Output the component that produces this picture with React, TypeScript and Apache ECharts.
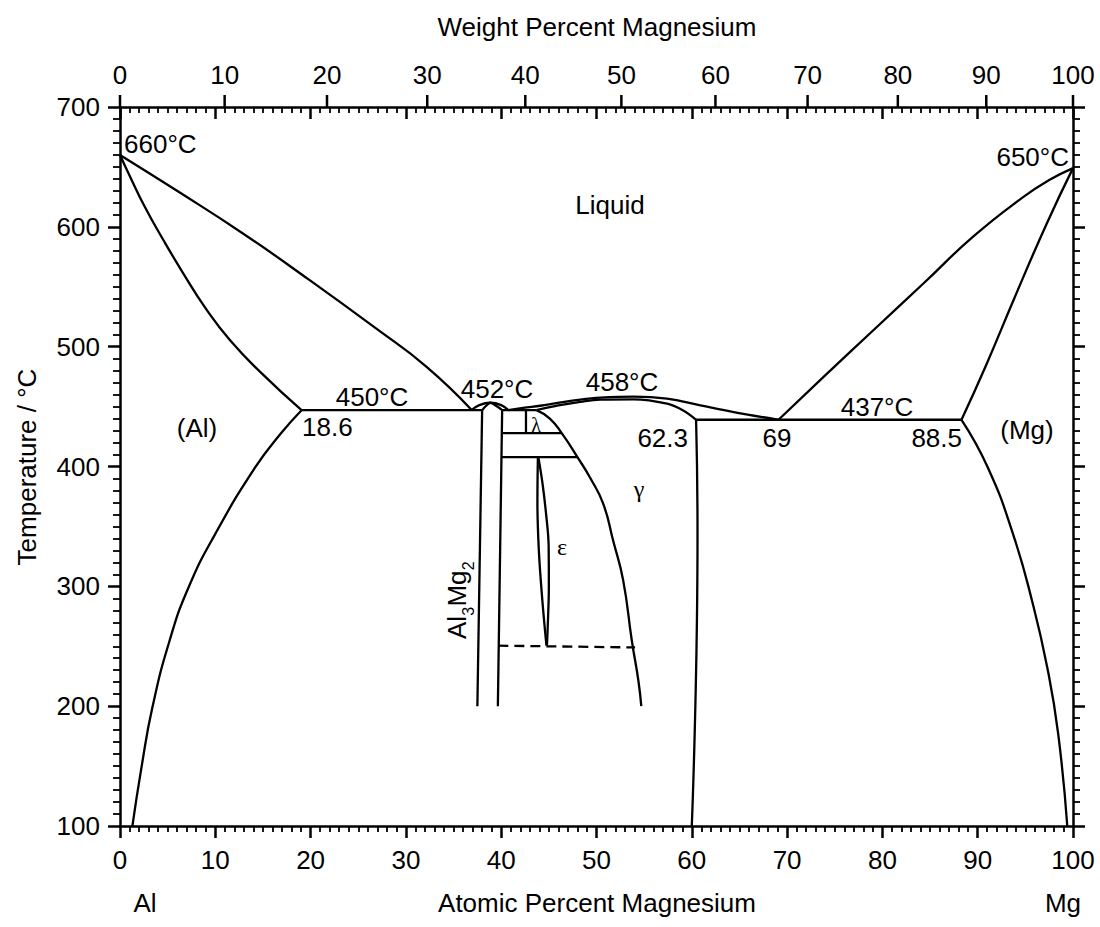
import React, { useEffect, useRef } from 'react';
import * as echarts from 'echarts';

type P = [number, number];

// Top axis: weight percent Mg labels and their positions on the atomic-percent scale
const wtPercentLabels = [0, 10, 20, 30, 40, 50, 60, 70, 80, 90, 100];
const wtPercentAtAtomic = [0, 10.98, 21.72, 32.24, 42.53, 52.61, 62.48, 72.15, 81.62, 90.9, 100];

// Phase boundaries: [atomic % Mg, temperature °C]
const alLiquidus: P[] = [[0, 660], [5.9, 630.5], [12.9, 594.5], [19.9, 555.5], [26.9, 515], [32.2, 483], [36.9, 447.2]];
const alSolidus: P[] = [[0, 660], [0.9, 644.6], [2.6, 616.7], [4.55, 589], [6.65, 561], [8.9, 533], [11.55, 505.3], [14.9, 477.5], [19.05, 447]];
const alSolvus: P[] = [[19.05, 447], [16.85, 427.3], [14.2, 399.4], [10.0, 343.8], [7.2, 299.2], [5.2, 254.6], [3.4, 199], [2.25, 148.7], [1.3, 100]];
const alEutectic: P[] = [[19.05, 447], [38.0, 447]];

const betaLeft: P[] = [[38.0, 447], [37.5, 200]];
const betaRight: P[] = [[40.1, 447], [39.65, 200]];
const betaLiquidus: P[] = [[36.9, 447.2], [37.7, 451.2], [38.85, 453.2], [40.0, 451.2], [40.75, 447]];
const betaSolidus: P[] = [[38.0, 447], [38.4, 450.5], [38.85, 453.2], [39.5, 450.5], [40.1, 447]];

const betaGammaEutectic: P[] = [[40.1, 447], [43.7, 447]];
const lambdaVertical: P[] = [[42.6, 447], [42.6, 427.8]];
const lambdaBottom: P[] = [[40.05, 427.8], [46.35, 427.8]];
const epsilonTop: P[] = [[40.0, 407.8], [48.0, 407.8]];

const gammaLeft: P[] = [[43.7, 447], [45.1, 440], [46.35, 427.8], [48.0, 407.8], [49.3, 391], [50.7, 369], [51.75, 338], [52.8, 305], [53.7, 255], [54.4, 221], [54.7, 200]];
const epsilonLeft: P[] = [[43.85, 407.8], [43.8, 370], [43.95, 330], [44.3, 290], [44.75, 250.5]];
const epsilonRight: P[] = [[43.9, 407.8], [44.35, 385], [44.7, 361], [44.98, 333], [45.0, 300], [44.9, 270], [44.8, 250.5]];
const dashed250: P[] = [[39.7, 250.5], [54.05, 249]];

const gammaLiquidus: P[] = [[40.75, 447], [42.3, 449], [44.1, 450.7], [45.8, 452.9], [48.3, 455.8], [50.4, 457.4], [53.9, 458.3], [57.4, 456.6], [60.9, 451], [64.4, 445.4], [69.1, 439]];
const gammaSolidus: P[] = [[43.7, 447], [46, 451], [48.3, 454], [50.4, 455.8], [53.9, 456], [57.4, 452.4], [59.1, 446.8], [60.45, 439]];
const gammaRight: P[] = [[60.45, 439], [60.6, 344], [60.0, 100]];

const mgEutectic: P[] = [[60.45, 439], [88.3, 439]];
const mgLiquidus: P[] = [[69.1, 439], [73.8, 474.6], [79.05, 513.7], [84.3, 552.7], [89.55, 592], [94.8, 625], [97.5, 639], [100, 649]];
const mgSolidus: P[] = [[88.3, 439], [90.95, 485.8], [93.9, 541.5], [97.25, 602.8], [100, 649]];
const mgSolvus: P[] = [[88.3, 439], [91.05, 399.4], [93.7, 343.8], [95.7, 288], [97.3, 232.3], [98.45, 176.6], [99.4, 100]];

const FONT = "'Liberation Sans', Arial, Helvetica, sans-serif";
const SERIF = "'Liberation Serif', 'Times New Roman', serif";
const FS = 26;
const LW = 2.3;

function txt(text: string, x: number, y: number, o: any = {}) {
  const align = o.align || 'center';
  const valign = o.valign || 'middle';
  return {
    type: 'text',
    x,
    y,
    rotation: o.rotation || 0,
    silent: true,
    style: {
      text,
      fill: '#000',
      fontSize: o.size || FS,
      fontFamily: o.family || FONT,
      align,
      verticalAlign: valign,
      textAlign: align,
      textVerticalAlign: valign,
    },
  };
}

export default function App() {
  const ref = useRef<HTMLDivElement>(null);

  useEffect(() => {
    document.body.style.margin = '0';
    if (!ref.current) return;
    const chart = echarts.init(ref.current, undefined, { renderer: 'svg' });

    const lineSeries = (data: P[], smooth: number | boolean, dashed = false) => ({
      type: 'line',
      data,
      xAxisIndex: 0,
      yAxisIndex: 0,
      showSymbol: false,
      symbol: 'none',
      smooth,
      silent: true,
      lineStyle: { color: '#000', width: LW, type: dashed ? [10, 6] : 'solid' },
      emphasis: { disabled: true },
    });

    const axisCommon = {
      type: 'value',
      axisLine: { show: true, onZero: false, lineStyle: { color: '#000', width: 2.5 } },
      splitLine: { show: false },
      minorSplitLine: { show: false },
    };

    const option: any = {
      animation: false,
      grid: { left: 120, right: 27, top: 107, bottom: 101, containLabel: false, outerBoundsMode: 'none' },
      xAxis: [
        {
          ...axisCommon,
          min: 0, max: 100, interval: 10, position: 'bottom',
          axisTick: { show: true, inside: false, length: 12, lineStyle: { color: '#000', width: 2.5 } },
          minorTick: { show: true, splitNumber: 10, length: 6, lineStyle: { color: '#000', width: 1.8 } },
          axisLabel: { show: true, margin: 21, fontSize: FS, fontFamily: FONT, color: '#000' },
        },
        {
          ...axisCommon,
          min: 0, max: 100, interval: 10, position: 'top',
          axisTick: { show: true, inside: true, length: 12, lineStyle: { color: '#000', width: 2.5 } },
          minorTick: { show: true, splitNumber: 10, length: 6, lineStyle: { color: '#000', width: 1.8 } },
          axisLabel: { show: false },
        },
      ],
      yAxis: [
        {
          ...axisCommon,
          min: 100, max: 700, interval: 100, position: 'left',
          axisTick: { show: true, inside: false, length: 12, lineStyle: { color: '#000', width: 2.5 } },
          minorTick: { show: true, splitNumber: 10, length: 7, lineStyle: { color: '#000', width: 1.8 } },
          axisLabel: { show: true, margin: 20, fontSize: FS, fontFamily: FONT, color: '#000' },
        },
        {
          ...axisCommon,
          min: 100, max: 700, interval: 100, position: 'right',
          axisTick: { show: true, inside: false, length: 12, lineStyle: { color: '#000', width: 2.5 } },
          minorTick: { show: true, splitNumber: 10, length: 7, lineStyle: { color: '#000', width: 1.8 } },
          axisLabel: { show: false },
        },
      ],
      series: [
        lineSeries(alLiquidus, 0.5),
        lineSeries(alSolidus, 0.5),
        lineSeries(alSolvus, 0.5),
        lineSeries(alEutectic, false),
        lineSeries(betaLeft, false),
        lineSeries(betaRight, false),
        lineSeries(betaLiquidus, 0.4),
        lineSeries(betaSolidus, 0.4),
        lineSeries(betaGammaEutectic, false),
        lineSeries(lambdaVertical, false),
        lineSeries(lambdaBottom, false),
        lineSeries(epsilonTop, false),
        lineSeries(gammaLeft, 0.5),
        lineSeries(epsilonLeft, 0.4),
        lineSeries(epsilonRight, 0.4),
        lineSeries(dashed250, false, true),
        lineSeries(gammaLiquidus, 0.4),
        lineSeries(gammaSolidus, 0.4),
        lineSeries(gammaRight, 0.5),
        lineSeries(mgEutectic, false),
        lineSeries(mgLiquidus, 0.5),
        lineSeries(mgSolidus, 0.5),
        lineSeries(mgSolvus, 0.5),
        {
          type: 'custom',
          coordinateSystem: 'cartesian2d',
          xAxisIndex: 0,
          yAxisIndex: 0,
          clip: false,
          silent: true,
          data: wtPercentAtAtomic.map((v, i) => [v, wtPercentLabels[i]]),
          renderItem: (params: any, api: any) => {
            const x = api.coord([api.value(0), 700])[0];
            const y0 = api.coord([0, 700])[1];
            return {
              type: 'group',
              children: [
                { type: 'line', shape: { x1: x, y1: y0, x2: x, y2: y0 - 12 }, style: { stroke: '#000', lineWidth: 2.5 } },
                {
                  type: 'text',
                  x,
                  y: y0 - 19,
                  style: {
                    text: String(api.value(1)),
                    fill: '#000',
                    fontSize: FS,
                    fontFamily: FONT,
                    align: 'center',
                    verticalAlign: 'bottom',
                    textAlign: 'center',
                    textVerticalAlign: 'bottom',
                  },
                },
              ],
            };
          },
        },
      ],
      graphic: [
        txt('Weight Percent Magnesium', 597, 27),
        txt('Temperature / °C', 27, 467, { rotation: Math.PI / 2 }),
        txt('Atomic Percent Magnesium', 597, 903),
        txt('Al', 145, 903),
        txt('Mg', 1063, 903),
        txt('660°C', 124, 144, { align: 'left' }),
        txt('650°C', 1069, 157, { align: 'right' }),
        txt('Liquid', 610, 205),
        txt('450°C', 372, 397),
        txt('18.6', 302, 427, { align: 'left' }),
        txt('452°C', 497, 389),
        txt('458°C', 622, 382),
        txt('(Al)', 197, 428),
        txt('λ', 536, 425, { family: SERIF, size: 20 }),
        txt('62.3', 688, 438, { align: 'right' }),
        txt('69', 777, 438),
        txt('437°C', 877, 407),
        txt('88.5', 962, 438, { align: 'right' }),
        txt('(Mg)', 1027, 430),
        txt('γ', 639, 489, { family: SERIF, size: 24 }),
        txt('ε', 562, 547, { family: SERIF, size: 24 }),
        {
          type: 'group',
          x: 464,
          y: 639,
          rotation: Math.PI / 2,
          silent: true,
          children: [
            txt('Al', 0, 5.5, { align: 'left', valign: 'bottom' }),
            txt('3', 23.3, 12.5, { align: 'left', valign: 'bottom', size: 16 }),
            txt('Mg', 32.4, 5.5, { align: 'left', valign: 'bottom' }),
            txt('2', 68.8, 12.5, { align: 'left', valign: 'bottom', size: 16 }),
          ],
        },
      ],
    };

    chart.setOption(option);
    return () => chart.dispose();
  }, []);

  return (
    <div
      ref={ref}
      style={{ position: 'absolute', left: 0, top: 0, width: 1100, height: 927, background: '#fff' }}
    />
  );
}
